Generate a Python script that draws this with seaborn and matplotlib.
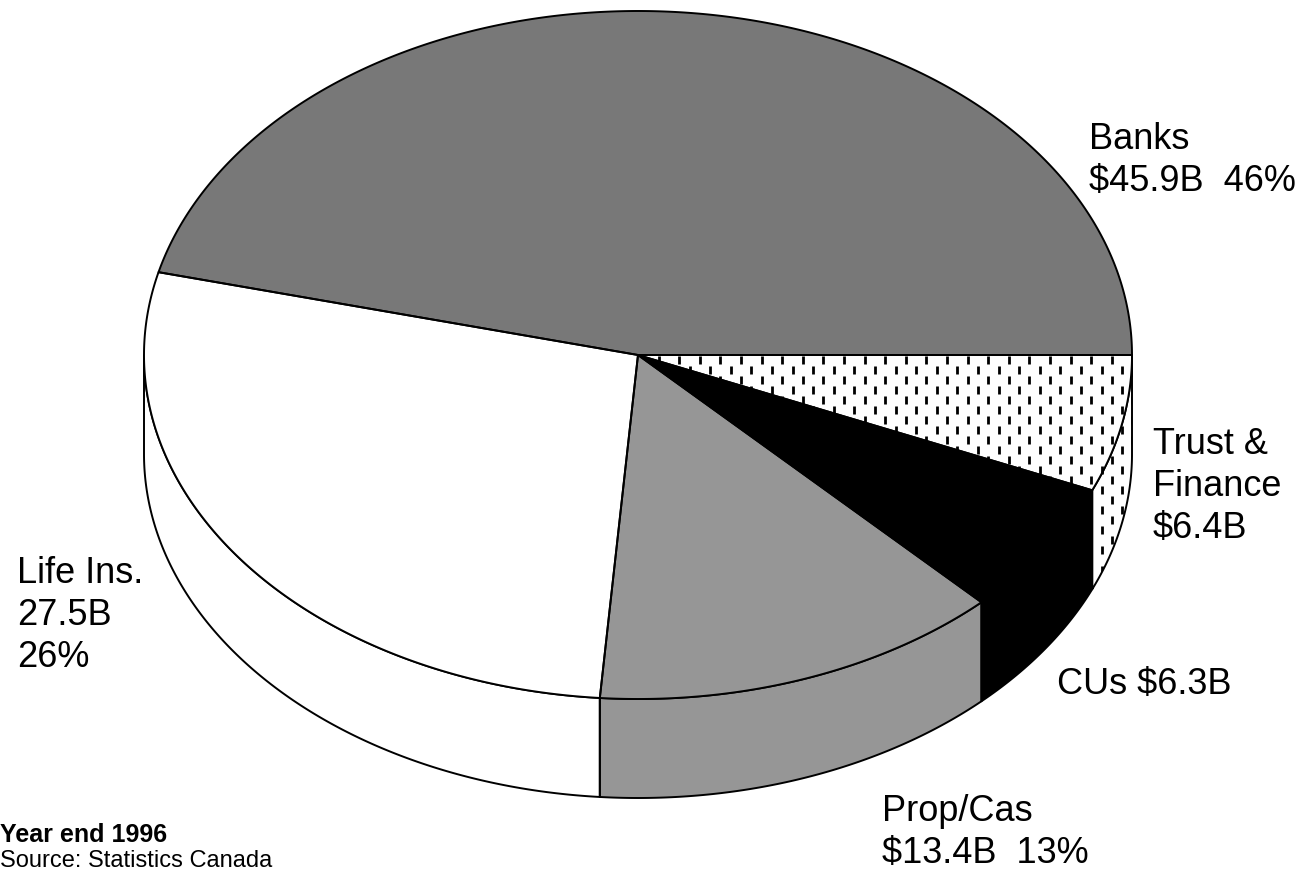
import numpy as np
import matplotlib
matplotlib.use("Agg")
import matplotlib.pyplot as plt
from matplotlib.patches import Polygon
from matplotlib.collections import LineCollection
import seaborn as sns

# Canadian financial sector assets, year end 1996 ($ billions)
categories = ["Banks", "Life Ins.", "Prop/Cas", "CUs", "Trust & Finance"]
values = [45.9, 27.5, 13.4, 6.3, 6.4]
label_lines = [
    ["Banks", "$45.9B  46%"],
    ["Life Ins.", "27.5B", "26%"],
    ["Prop/Cas", "$13.4B  13%"],
    ["CUs $6.3B"],
    ["Trust &", "Finance", "$6.4B"],
]
fills = ["#787878", "#ffffff", "#969696", "#000000", "#ffffff"]
hatched = [False, False, False, False, True]
label_pos = [(1089, 149), (17, 583), (882, 821), (1057, 694), (1153, 454)]

sns.set_theme(style="white")
plt.rcParams["font.family"] = ["Liberation Sans", "DejaVu Sans"]
plt.rcParams["text.color"] = "black"

W, H = 1308, 874
fig = plt.figure(figsize=(W / 100, H / 100), dpi=100)
ax = fig.add_axes([0, 0, 1, 1])
ax.set_xlim(0, W)
ax.set_ylim(H, 0)
ax.axis("off")

# pie geometry (pixel units)
cx, cy, rx, ry, depth = 638, 355, 494, 344, 99
edge_lw = 1.4


def arc(t_deg, dz=0.0):
    t = np.radians(t_deg)
    return np.column_stack([cx + rx * np.cos(t), cy - ry * np.sin(t) + dz])


def dash_pattern():
    segs = []
    step_x, period, length = 10.3, 20.0, 8.0
    k_min = int(-rx / step_x) - 3
    k_max = int(rx / step_x) + 3
    for k in range(k_min, k_max + 1):
        x = cx + k * step_x
        off = 10.0 if k % 2 else 0.0
        y = cy + 1 + off - period * 40
        while y < cy + ry + depth + 40:
            segs.append([(x, y), (x, y + length)])
            y += period
    return segs


def draw_patch(verts, color, hatch, z):
    face = Polygon(verts, closed=True, facecolor=color, edgecolor="none", zorder=z)
    ax.add_patch(face)
    if hatch:
        lc = LineCollection(dash_pattern(), colors="black", linewidths=2.0,
                            zorder=z + 0.1, capstyle="butt")
        ax.add_collection(lc)
        lc.set_clip_path(face)
    outline = Polygon(verts, closed=True, facecolor="none", edgecolor="black",
                      linewidth=edge_lw, joinstyle="round", zorder=z + 0.2)
    ax.add_patch(outline)


bounds = np.concatenate([[0.0], np.cumsum(values) / np.sum(values) * 360.0])

# front side walls
for i in range(len(values)):
    lo, hi = max(bounds[i], 180.0), min(bounds[i + 1], 360.0)
    if hi > lo:
        ts = np.linspace(lo, hi, 300)
        verts = np.vstack([arc(ts), arc(ts[::-1], depth)])
        draw_patch(verts, fills[i], hatched[i], 1)

# top faces
for i in range(len(values)):
    ts = np.linspace(bounds[i], bounds[i + 1], 400)
    verts = np.vstack([[[cx, cy]], arc(ts)])
    draw_patch(verts, fills[i], hatched[i], 3)

# slice labels
for (x, y), lines in zip(label_pos, label_lines):
    for j, line in enumerate(lines):
        ax.text(x, y + 42 * j, line, fontsize=26, color="black",
                ha="left", va="baseline")

ax.text(0, 842, "Year end 1996", fontsize=18, fontweight="bold",
        color="black", ha="left", va="baseline")
ax.text(0, 867, "Source: Statistics Canada", fontsize=17,
        color="black", ha="left", va="baseline")

fig.savefig("out.png", dpi=100, facecolor="white")
